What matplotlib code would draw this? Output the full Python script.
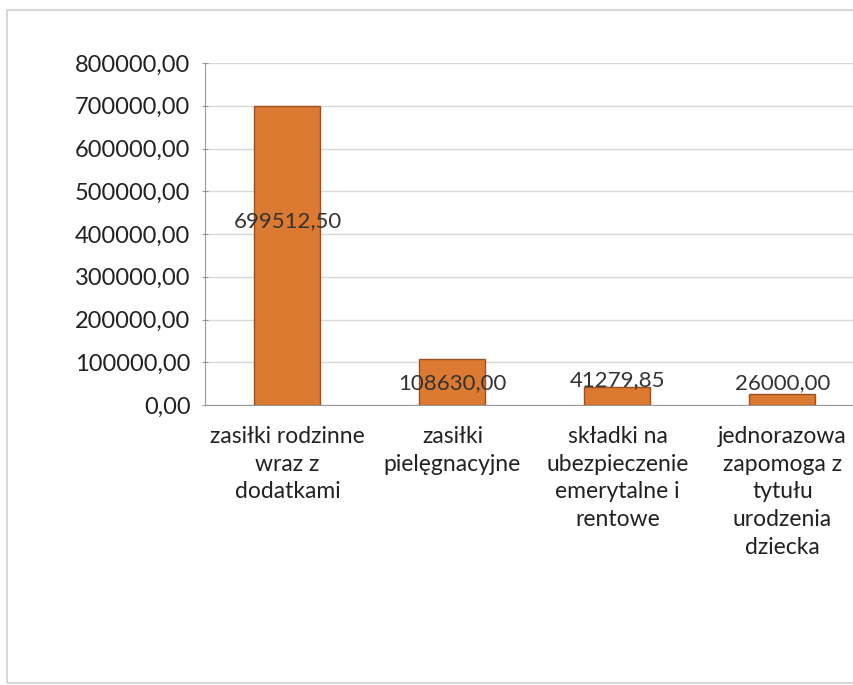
import matplotlib
matplotlib.use("Agg")
import matplotlib.pyplot as plt
from matplotlib.patches import Rectangle

categories = ["zasiłki rodzinne\nwraz z\ndodatkami",
              "zasiłki\npielęgnacyjne",
              "składki na\nubezpieczenie\nemerytalne i\nrentowe",
              "jednorazowa\nzapomoga z\ntytułu\nurodzenia\ndziecka"]
values = [699512.50, 108630.00, 41279.85, 26000.00]
value_labels = ["699512,50", "108630,00", "41279,85", "26000,00"]
yticks = [0, 100000, 200000, 300000, 400000, 500000, 600000, 700000, 800000]

plt.rcParams['font.family'] = ['Lato', 'DejaVu Sans']

fig = plt.figure(figsize=(8.54, 6.85), dpi=100)
fig.patch.set_facecolor('white')
# chart area border
fig.patches.append(Rectangle((7/854, 2/685), 1.0, 1 - 12/685, transform=fig.transFigure,
                             fill=False, edgecolor='#d0d0d0', linewidth=1.2))

ax = fig.add_axes([205/854, 280/685, 660/854, 342/685])
x = list(range(len(values)))
ax.bar(x, values, width=0.40, color='#DB7A30', edgecolor='#9a5020', linewidth=1.0, zorder=3)
ax.set_xlim(-0.5, 3.5)
ax.set_ylim(0, 800000)
ax.set_yticks(yticks)
ax.set_yticklabels([f"{v:.2f}".replace('.', ',') for v in yticks], fontsize=17, color='#222222')
ax.yaxis.grid(True, color='#d9d9d9', linewidth=1.0, zorder=0)
ax.set_xticks(x)
ax.set_xticklabels(categories, fontsize=16.5, color='#222222', linespacing=1.4, va='top')
ax.tick_params(axis='x', length=0, pad=15)
ax.tick_params(axis='y', length=5, direction='inout', color='#999999', pad=8)
for s in ['top', 'right']:
    ax.spines[s].set_visible(False)
ax.spines['left'].set_color('#999999')
ax.spines['bottom'].set_color('#999999')

label_y = [430000, 52000, 58000, 52000]
for xi, ly, t in zip(x, label_y, value_labels):
    ax.text(xi, ly, t, ha='center', va='center', fontsize=16, color='#333333', zorder=4)

fig.savefig("out.png", dpi=100, facecolor='white')
